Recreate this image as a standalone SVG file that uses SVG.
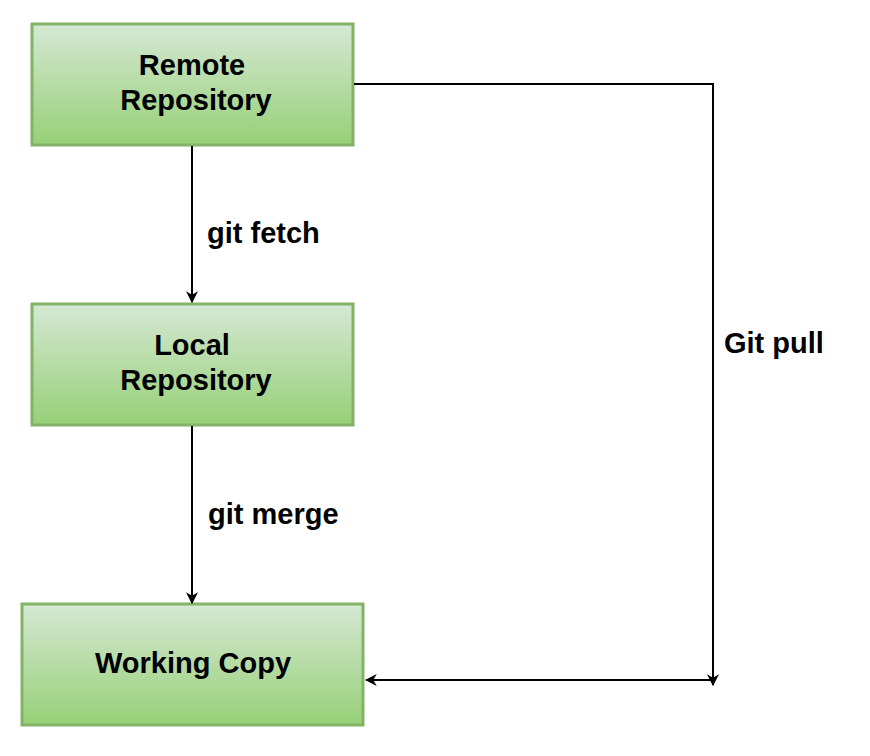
<svg xmlns="http://www.w3.org/2000/svg" width="870" height="756" viewBox="0 0 870 756">
<defs>
<linearGradient id="g" x1="0" y1="0" x2="0" y2="1">
<stop offset="0" stop-color="#d5e8d4"/>
<stop offset="1" stop-color="#97d077"/>
</linearGradient>
<marker id="a" viewBox="0 0 10 10" refX="9" refY="5" markerWidth="12" markerHeight="12" markerUnits="userSpaceOnUse" orient="auto">
<path d="M0,0 L10,5 L0,10 L3,5 Z" fill="#000"/>
</marker>
<style>
.box{fill:url(#g);stroke:#82b366;stroke-width:3}
.t{font-family:"Liberation Sans",Arial,sans-serif;font-weight:bold;font-size:29px;fill:#000;text-anchor:middle}
.l{font-family:"Liberation Sans",Arial,sans-serif;font-weight:bold;font-size:29px;fill:#000}
.c{fill:none;stroke:#000;stroke-width:2;marker-end:url(#a)}
</style>
</defs>
<rect width="870" height="756" fill="#fff"/>
<g id="remote"><rect class="box" x="32" y="24" width="321" height="121"/><text class="t" x="192" y="75">Remote</text><text class="t" x="196" y="110">Repository</text></g>
<g id="local"><rect class="box" x="32" y="304" width="321" height="121"/><text class="t" x="192" y="355">Local</text><text class="t" x="196" y="390">Repository</text></g>
<g id="working"><rect class="box" x="22" y="604" width="341" height="121"/><text class="t" x="193" y="673">Working Copy</text></g>
<g id="connectors">
<path class="c" d="M192,146 V302"/>
<path class="c" d="M192,426 V603"/>
<path class="c" d="M354,84 H713 V685"/>
<path class="c" d="M713,680 H366"/>
<text class="l" x="207" y="243">git fetch</text>
<text class="l" x="724" y="353">Git pull</text>
<text class="l" x="208" y="524">git merge</text>
</g>
</svg>
